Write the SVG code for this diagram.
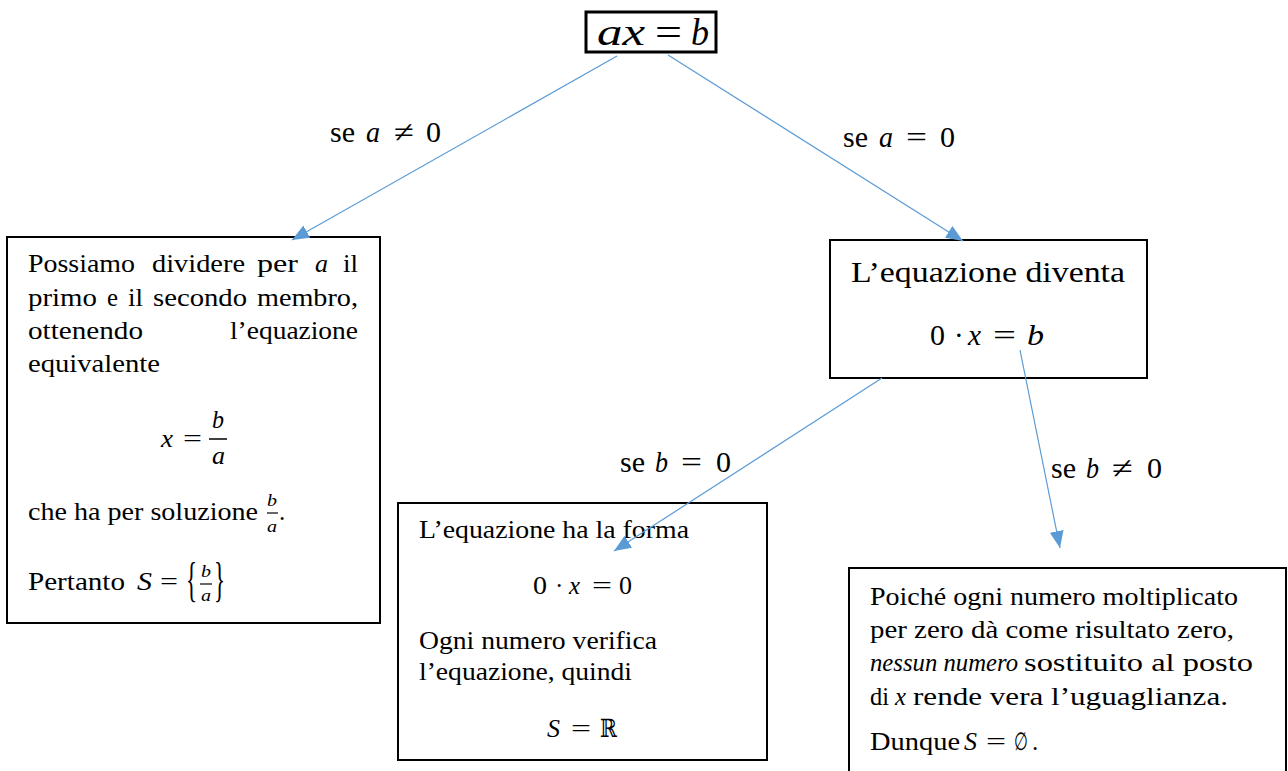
<svg xmlns="http://www.w3.org/2000/svg" width="1288" height="771" viewBox="0 0 1288 771">
<style>
.t{font-family:"Liberation Serif","DejaVu Serif",serif;font-size:25px;fill:#000}
.i{font-style:italic}
.m{font-family:"Liberation Serif","DejaVu Serif",serif;fill:#000}
.lbl{font-size:30px}
.box{fill:#fff;stroke:#000;stroke-width:2}
.bar{stroke:#000;stroke-width:1.5}
.conn{stroke:#5B9BD5;stroke-width:1.2;fill:none}
</style>
<defs>
<marker id="ah" markerUnits="userSpaceOnUse" markerWidth="18" markerHeight="14" refX="17" refY="7" orient="auto">
<path d="M0,0 L17,7 L0,14 z" fill="#5B9BD5"/>
</marker>
</defs>
<rect width="1288" height="771" fill="#fff"/>

<g id="root">
<rect x="586" y="12" width="130" height="40" fill="#fff" stroke="#000" stroke-width="3"/>
<text class="m i" font-size="38" x="597" y="45" textLength="48" lengthAdjust="spacingAndGlyphs">ax</text>
<text class="m" font-size="38" x="655" y="45" textLength="27" lengthAdjust="spacingAndGlyphs">=</text>
<text class="m i" font-size="38" x="691" y="45" textLength="18" lengthAdjust="spacingAndGlyphs">b</text>
</g>

<g id="left">
<rect class="box" x="7" y="237" width="373" height="386"/>
<text class="t" x="28" y="272" textLength="107" lengthAdjust="spacingAndGlyphs">Possiamo</text>
<text class="t" x="152" y="272" textLength="93" lengthAdjust="spacingAndGlyphs">dividere</text>
<text class="t" x="257" y="272" textLength="41" lengthAdjust="spacingAndGlyphs">per</text>
<text class="t i" x="315" y="272" textLength="13" lengthAdjust="spacingAndGlyphs">a</text>
<text class="t" x="343" y="272" textLength="15" lengthAdjust="spacingAndGlyphs">il</text>
<text class="t" x="28" y="306" textLength="69" lengthAdjust="spacingAndGlyphs">primo</text>
<text class="t" x="107" y="306" textLength="11" lengthAdjust="spacingAndGlyphs">e</text>
<text class="t" x="128" y="306" textLength="15" lengthAdjust="spacingAndGlyphs">il</text>
<text class="t" x="153" y="306" textLength="94" lengthAdjust="spacingAndGlyphs">secondo</text>
<text class="t" x="257" y="306" textLength="101" lengthAdjust="spacingAndGlyphs">membro,</text>
<text class="t" x="28" y="339" textLength="115" lengthAdjust="spacingAndGlyphs">ottenendo</text>
<text class="t" x="230" y="339" textLength="128" lengthAdjust="spacingAndGlyphs">l’equazione</text>
<text class="t" x="28" y="372" textLength="132" lengthAdjust="spacingAndGlyphs">equivalente</text>
<text class="t i" x="161" y="447" textLength="12" lengthAdjust="spacingAndGlyphs">x</text>
<text class="t" x="183" y="447" textLength="19" lengthAdjust="spacingAndGlyphs">=</text>
<text class="t i" x="212" y="428" textLength="12" lengthAdjust="spacingAndGlyphs">b</text>
<line class="bar" x1="209" y1="439" x2="227" y2="439"/>
<text class="t i" x="212" y="464" textLength="13" lengthAdjust="spacingAndGlyphs">a</text>
<text class="t" x="28" y="520" textLength="230" lengthAdjust="spacingAndGlyphs">che ha per soluzione</text>
<text class="m i" font-size="16" x="267" y="506" textLength="10" lengthAdjust="spacingAndGlyphs">b</text>
<line x1="267" y1="513" x2="278" y2="513" stroke="#000" stroke-width="1.2"/>
<text class="m i" font-size="16" x="267" y="532" textLength="10" lengthAdjust="spacingAndGlyphs">a</text>
<text class="t" x="279" y="520">.</text>
<text class="t" x="28" y="590" textLength="97" lengthAdjust="spacingAndGlyphs">Pertanto</text>
<text class="t i" x="137" y="590" textLength="15" lengthAdjust="spacingAndGlyphs">S</text>
<text class="t" x="160" y="590" textLength="18" lengthAdjust="spacingAndGlyphs">=</text>
<text class="m" font-size="48" x="186" y="596" textLength="11" lengthAdjust="spacingAndGlyphs">{</text>
<text class="m i" font-size="16" x="201" y="577" textLength="10" lengthAdjust="spacingAndGlyphs">b</text>
<line x1="200" y1="584" x2="212" y2="584" stroke="#000" stroke-width="1.2"/>
<text class="m i" font-size="16" x="201" y="601" textLength="10" lengthAdjust="spacingAndGlyphs">a</text>
<text class="m" font-size="48" x="214" y="596" textLength="11" lengthAdjust="spacingAndGlyphs">}</text>
</g>

<g id="zero">
<rect class="box" x="830" y="240" width="317" height="138"/>
<text class="m" font-size="29" x="851" y="282" textLength="274" lengthAdjust="spacingAndGlyphs">L’equazione diventa</text>
<text class="m" font-size="29" x="930" y="345" textLength="15" lengthAdjust="spacingAndGlyphs">0</text>
<text class="m" font-size="29" x="954" y="345">·</text>
<text class="m i" font-size="29" x="968" y="345" textLength="13" lengthAdjust="spacingAndGlyphs">x</text>
<text class="m" font-size="29" x="993" y="345" textLength="23" lengthAdjust="spacingAndGlyphs">=</text>
<text class="m i" font-size="29" x="1027" y="345" textLength="17" lengthAdjust="spacingAndGlyphs">b</text>
</g>

<g id="all">
<rect class="box" x="398" y="503" width="369" height="257"/>
<text class="t" x="419" y="538" textLength="270" lengthAdjust="spacingAndGlyphs">L’equazione ha la forma</text>
<text class="t" x="533" y="594" textLength="14" lengthAdjust="spacingAndGlyphs">0</text>
<text class="t" x="555" y="594">·</text>
<text class="t i" x="569" y="594" textLength="11" lengthAdjust="spacingAndGlyphs">x</text>
<text class="t" x="592" y="594" textLength="20" lengthAdjust="spacingAndGlyphs">=</text>
<text class="t" x="619" y="594" textLength="13" lengthAdjust="spacingAndGlyphs">0</text>
<text class="t" x="419" y="649" textLength="238" lengthAdjust="spacingAndGlyphs">Ogni numero verifica</text>
<text class="t" x="419" y="680" textLength="213" lengthAdjust="spacingAndGlyphs">l’equazione, quindi</text>
<text class="t i" x="547" y="737" textLength="13" lengthAdjust="spacingAndGlyphs">S</text>
<text class="t" x="571" y="737" textLength="20" lengthAdjust="spacingAndGlyphs">=</text>
<text class="m" font-size="25" x="600" y="737" textLength="17" lengthAdjust="spacingAndGlyphs">ℝ</text>
</g>

<g id="none">
<path d="M849,771 V568 H1286 V771" fill="#fff" stroke="#000" stroke-width="2"/>
<text class="t" x="870" y="605" textLength="368" lengthAdjust="spacingAndGlyphs">Poiché ogni numero moltiplicato</text>
<text class="t" x="870" y="638" textLength="364" lengthAdjust="spacingAndGlyphs">per zero dà come risultato zero,</text>
<text class="t i" x="870" y="671" textLength="148" lengthAdjust="spacingAndGlyphs">nessun numero</text>
<text class="t" x="1024" y="671" textLength="229" lengthAdjust="spacingAndGlyphs">sostituito al posto</text>
<text class="t" x="870" y="705" textLength="19" lengthAdjust="spacingAndGlyphs">di</text>
<text class="t i" x="895" y="705" textLength="11" lengthAdjust="spacingAndGlyphs">x</text>
<text class="t" x="913" y="705" textLength="315" lengthAdjust="spacingAndGlyphs">rende vera l’uguaglianza.</text>
<text class="t" x="870" y="750" textLength="90" lengthAdjust="spacingAndGlyphs">Dunque</text>
<text class="t i" x="964" y="750" textLength="13" lengthAdjust="spacingAndGlyphs">S</text>
<text class="t" x="986" y="750" textLength="20" lengthAdjust="spacingAndGlyphs">=</text>
<text class="m" font-size="25" x="1014" y="750" textLength="14" lengthAdjust="spacingAndGlyphs">∅</text>
<text class="t" x="1032" y="750">.</text>
</g>

<g id="connectors">
<line class="conn" x1="617" y1="56" x2="292" y2="240" marker-end="url(#ah)"/>
<line class="conn" x1="668" y1="55" x2="963" y2="241" marker-end="url(#ah)"/>
<line class="conn" x1="882" y1="378" x2="614" y2="551" marker-end="url(#ah)"/>
<line class="conn" x1="1020" y1="350" x2="1060" y2="548" marker-end="url(#ah)"/>
<g id="labels">
<text class="m lbl" x="330" y="142" textLength="25" lengthAdjust="spacingAndGlyphs">se</text>
<text class="m lbl i" x="366" y="142" textLength="14" lengthAdjust="spacingAndGlyphs">a</text>
<text class="m lbl" x="394" y="142" textLength="20" lengthAdjust="spacingAndGlyphs">≠</text>
<text class="m lbl" x="426" y="142" textLength="15" lengthAdjust="spacingAndGlyphs">0</text>
<text class="m lbl" x="843" y="147" textLength="25" lengthAdjust="spacingAndGlyphs">se</text>
<text class="m lbl i" x="879" y="147" textLength="14" lengthAdjust="spacingAndGlyphs">a</text>
<text class="m lbl" x="906" y="147" textLength="21" lengthAdjust="spacingAndGlyphs">=</text>
<text class="m lbl" x="940" y="147" textLength="15" lengthAdjust="spacingAndGlyphs">0</text>
<text class="m lbl" x="620" y="472" textLength="25" lengthAdjust="spacingAndGlyphs">se</text>
<text class="m lbl i" x="655" y="472" textLength="13" lengthAdjust="spacingAndGlyphs">b</text>
<text class="m lbl" x="681" y="472" textLength="21" lengthAdjust="spacingAndGlyphs">=</text>
<text class="m lbl" x="716" y="472" textLength="15" lengthAdjust="spacingAndGlyphs">0</text>
<text class="m lbl" x="1051" y="478" textLength="25" lengthAdjust="spacingAndGlyphs">se</text>
<text class="m lbl i" x="1086" y="478" textLength="13" lengthAdjust="spacingAndGlyphs">b</text>
<text class="m lbl" x="1112" y="478" textLength="21" lengthAdjust="spacingAndGlyphs">≠</text>
<text class="m lbl" x="1147" y="478" textLength="15" lengthAdjust="spacingAndGlyphs">0</text>
</g>
</g>
</svg>
